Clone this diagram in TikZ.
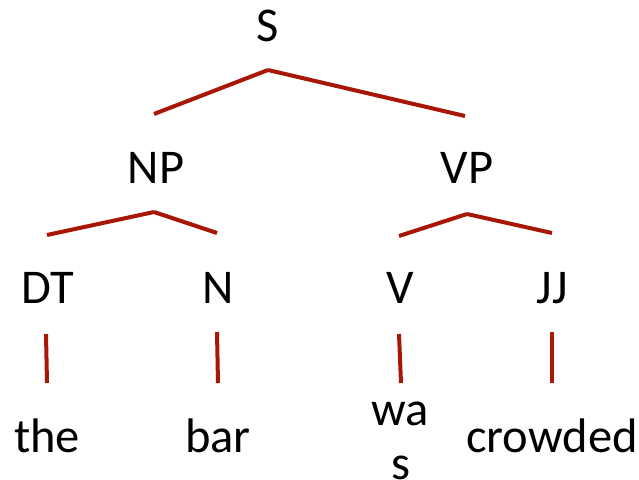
\documentclass[tikz,border=0pt]{standalone}
\usepackage{fontspec}
\setmainfont{Carlito}
\definecolor{branch}{RGB}{168,22,6}
\begin{document}
\begin{tikzpicture}[x=1pt,y=-1pt,
  lbl/.style={anchor=base,inner sep=0pt,font=\fontsize{48.5}{48.5}\selectfont},
  br/.style={draw=branch,line width=4pt,line cap=butt}]
\useasboundingbox (0,0) rectangle (639,479);
% labels
\node[lbl] (S) at (268,41) {S};
\node[lbl] (NP) at (156,183) {NP};
\node[lbl] (VP) at (467,183) {VP};
\node[lbl] (DT) at (48,303) {DT};
\node[lbl] (N) at (218,303) {N};
\node[lbl] (V) at (400,303) {V};
\node[lbl] (JJ) at (552,303) {JJ};
\node[lbl] (the) at (47,452) {the};
\node[lbl] (bar) at (218,452) {bar};
\node[lbl] (wa) at (400,425) {wa};
\node[lbl] (s) at (401,479) {s};
\node[lbl] (crowded) at (552,452) {crowded};
% branch points
\coordinate (sA) at (268,70);
\coordinate (sL) at (154,114);
\coordinate (sR) at (465,116);
\coordinate (nA) at (154,212);
\coordinate (nL) at (47,235);
\coordinate (nR) at (217,233);
\coordinate (vA) at (467,214);
\coordinate (vL) at (399,236);
\coordinate (vR) at (552,233);
\coordinate (d1) at (46,334);
\coordinate (d2) at (47,383);
\coordinate (n1) at (217,332);
\coordinate (n2) at (218,383);
\coordinate (v1) at (399,334);
\coordinate (v2) at (401,383);
\coordinate (j1) at (552,332);
\coordinate (j2) at (552,383);
% branches
\draw[br] (sA) -- (sL);
\draw[br] (sA) -- (sR);
\draw[br] (nA) -- (nL);
\draw[br] (nA) -- (nR);
\draw[br] (vA) -- (vL);
\draw[br] (vA) -- (vR);
\draw[br] (d1) -- (d2);
\draw[br] (n1) -- (n2);
\draw[br] (v1) -- (v2);
\draw[br] (j1) -- (j2);
\end{tikzpicture}
\end{document}
